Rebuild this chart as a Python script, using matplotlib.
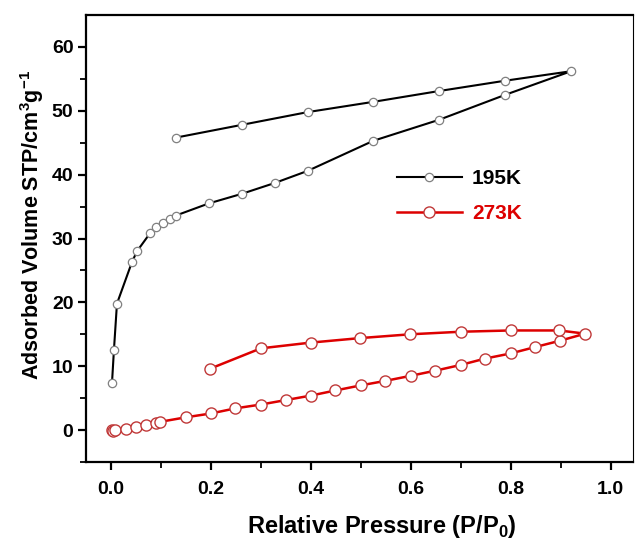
import matplotlib.pyplot as plt
import numpy as np

plt.rcParams['font.family'] = ['Liberation Sans', 'DejaVu Sans']
plt.rcParams['font.weight'] = 'bold'
plt.rcParams['mathtext.fontset'] = 'custom'
plt.rcParams['mathtext.rm'] = 'Liberation Sans:bold'
plt.rcParams['mathtext.bf'] = 'Liberation Sans:bold'

# 195 K isotherm (adsorption then desorption)
p195_ads = [0.002, 0.006, 0.012, 0.042, 0.052, 0.078, 0.091, 0.104, 0.118, 0.130,
            0.196, 0.262, 0.328, 0.394, 0.525, 0.657, 0.789, 0.921]
v195_ads = [7.3, 12.6, 19.8, 26.3, 28.0, 30.8, 31.8, 32.4, 33.0, 33.6,
            35.5, 37.0, 38.7, 40.6, 45.3, 48.6, 52.5, 56.2]
p195_des = [0.788, 0.657, 0.525, 0.394, 0.262, 0.130]
v195_des = [54.7, 53.1, 51.4, 49.8, 47.8, 45.8]

# 273 K isotherm
p273_ads = [0.002, 0.005, 0.009, 0.03, 0.05, 0.07, 0.09, 0.099, 0.15, 0.2, 0.249,
            0.3, 0.35, 0.4, 0.449, 0.5, 0.549, 0.6, 0.649, 0.7, 0.749, 0.8,
            0.849, 0.899, 0.949]
v273_ads = [0.0, -0.1, 0.0, 0.15, 0.5, 0.8, 1.1, 1.3, 2.0, 2.6, 3.4,
            4.0, 4.7, 5.4, 6.2, 7.0, 7.7, 8.5, 9.3, 10.2, 11.2, 12.0,
            13.0, 14.0, 15.1]
p273_des = [0.897, 0.8, 0.7, 0.599, 0.498, 0.4, 0.3, 0.198]
v273_des = [15.6, 15.6, 15.4, 15.0, 14.4, 13.7, 12.8, 9.6]

fig = plt.figure(figsize=(6.35, 5.42), dpi=100)
ax = fig.add_axes([0.1354, 0.1476, 0.8616, 0.8247])

ax.plot(p195_ads + p195_des, v195_ads + v195_des, color='black', lw=1.5,
        marker='o', ms=6, mfc='white', mec='#808080', mew=0.9, label='195K')
ax.plot(p273_ads + p273_des, v273_ads + v273_des, color='#dd0000', lw=1.8,
        marker='o', ms=8, mfc='white', mec='#c03838', mew=1.0, label='273K')

ax.set_xlim(-0.05, 1.045)
ax.set_ylim(-5, 65)
ax.set_xticks(np.arange(0, 1.01, 0.2))
ax.set_xticks(np.arange(0.1, 1.0, 0.2), minor=True)
ax.set_yticks(np.arange(0, 61, 10))
ax.set_yticks(np.arange(-5, 65, 10), minor=True)
ax.xaxis.set_major_formatter(plt.FormatStrFormatter('%.1f'))

for s in ax.spines.values():
    s.set_linewidth(1.6)
ax.spines['right'].set_linewidth(0.8)
ax.tick_params(which='major', direction='out', length=6, width=1.6, labelsize=14, pad=3)
ax.tick_params(which='minor', direction='out', length=4, width=1.3)
ax.tick_params(axis='x', which='major', pad=8)

ax.set_xlabel('Relative Pressure (P/P$_0$)', fontsize=17, fontweight='bold')
ax.set_ylabel('Adsorbed Volume STP/cm$^{3}$g$^{-1}$', fontsize=15.5, fontweight='bold')
ax.xaxis.set_label_coords(0.541, -0.115)
ax.yaxis.set_label_coords(-0.073, 0.53)

ax.legend(loc='upper left', bbox_to_anchor=(0.5686, 0.655), frameon=False,
          borderaxespad=0, borderpad=0, handlelength=3.1, handletextpad=0.5,
          labelcolor='linecolor', prop={'size': 15, 'weight': 'bold'},
          labelspacing=0.75)

fig.savefig('out.png', dpi=100)
plt.close(fig)
